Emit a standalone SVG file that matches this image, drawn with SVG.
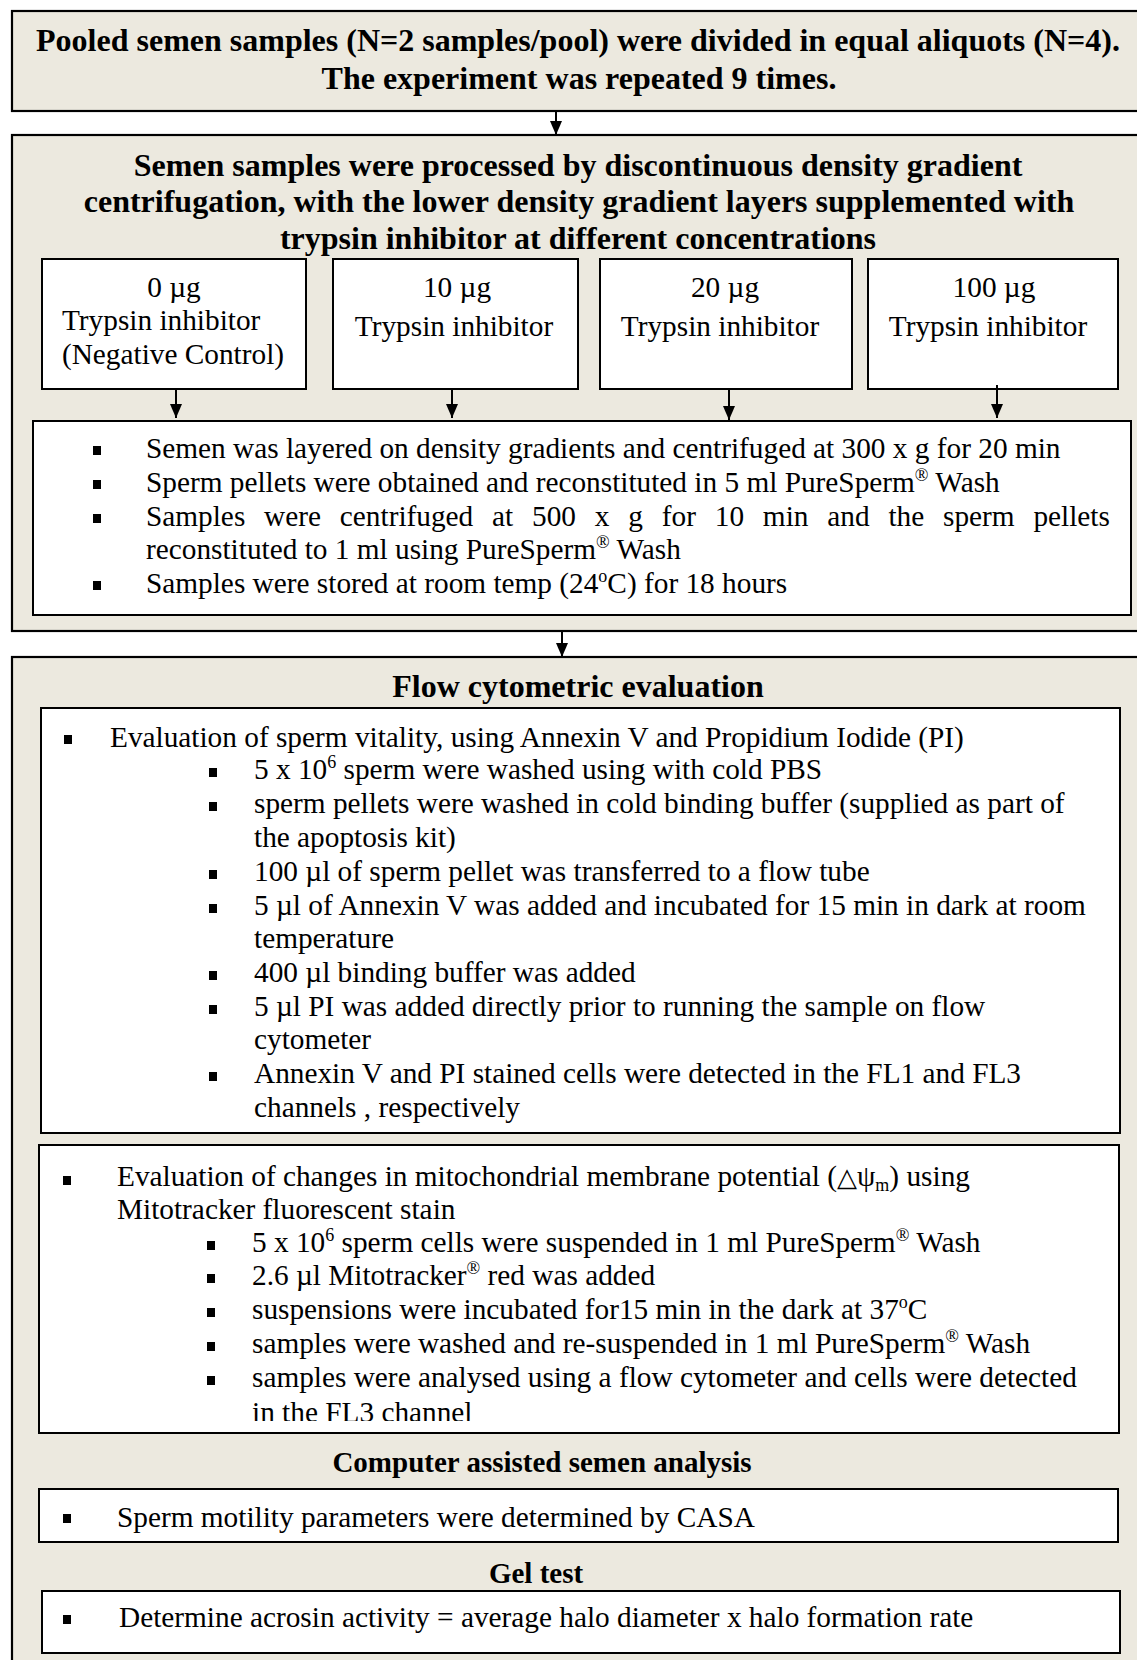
<svg xmlns="http://www.w3.org/2000/svg" width="1137" height="1660" viewBox="0 0 1137 1660">
<defs>
<style>
.outer{fill:#ECE9DF;stroke:#000;stroke-width:2.2}
.inner{fill:#fff;stroke:#000;stroke-width:2}
.hb{font-family:"Liberation Serif","Times New Roman",serif;font-weight:bold;font-size:32px;fill:#000}
.hs{font-family:"Liberation Serif","Times New Roman",serif;font-weight:bold;font-size:29px;fill:#000}
.t{font-family:"Liberation Serif","Times New Roman",serif;font-size:29.3px;fill:#000}
.c{text-anchor:middle}
.sup{font-size:18px}
.b{fill:#000}
.conn{stroke:#000;stroke-width:2;fill:none;marker-end:url(#ah)}
</style>
<marker id="ah" markerUnits="userSpaceOnUse" viewBox="0 0 14 12" markerWidth="14" markerHeight="12" refX="14" refY="6" orient="auto">
<path d="M0,0 L14,6 L0,12 z" fill="#000"/>
</marker>
<clipPath id="mitoClip"><rect x="39" y="1145" width="1080" height="276"/></clipPath>
</defs>

<g id="title">
<rect class="outer" x="12" y="11" width="1140" height="100"/>
<text class="hb c" x="578" y="51">Pooled semen samples (N=2 samples/pool) were divided in equal aliquots (N=4).</text>
<text class="hb c" x="579" y="89">The experiment was repeated 9 times.</text>
</g>

<g id="gradient">
<rect class="outer" x="12" y="135" width="1140" height="496"/>
<text class="hb c" x="578" y="176">Semen samples were processed by discontinuous density gradient</text>
<text class="hb c" x="579" y="212">centrifugation, with the lower density gradient layers supplemented with</text>
<text class="hb c" x="578" y="249">trypsin inhibitor at different concentrations</text>

<g id="conc0">
<rect class="inner" x="42" y="259" width="264" height="130"/>
<text class="t c" x="174" y="297">0 µg</text>
<text class="t" x="62" y="330">Trypsin inhibitor</text>
<text class="t c" x="173" y="364">(Negative Control)</text>
</g>
<g id="conc10">
<rect class="inner" x="333" y="259" width="245" height="130"/>
<text class="t c" x="457" y="297">10 µg</text>
<text class="t c" x="454" y="336">Trypsin inhibitor</text>
</g>
<g id="conc20">
<rect class="inner" x="600" y="259" width="252" height="130"/>
<text class="t c" x="725" y="297">20 µg</text>
<text class="t c" x="720" y="336">Trypsin inhibitor</text>
</g>
<g id="conc100">
<rect class="inner" x="868" y="259" width="250" height="130"/>
<text class="t c" x="994" y="297">100 µg</text>
<text class="t c" x="988" y="336">Trypsin inhibitor</text>
</g>

<g id="protocol">
<rect class="inner" x="33" y="421" width="1098" height="194"/>
<rect class="b" x="93" y="446" width="8" height="9"/>
<text class="t" x="146" y="458">Semen was layered on density gradients and centrifuged at 300 x g for 20 min</text>
<rect class="b" x="93" y="480" width="8" height="9"/>
<text class="t" x="146" y="492">Sperm pellets were obtained and reconstituted in 5 ml PureSperm<tspan class="sup" dy="-11">®</tspan><tspan dy="11"> Wash</tspan></text>
<rect class="b" x="93" y="514" width="8" height="9"/>
<text class="t" x="146" y="526" word-spacing="11.5">Samples were centrifuged at 500 x g for 10 min and the sperm pellets</text>
<text class="t" x="146" y="559">reconstituted to 1 ml using PureSperm<tspan class="sup" dy="-11">®</tspan><tspan dy="11"> Wash</tspan></text>
<rect class="b" x="93" y="581" width="8" height="9"/>
<text class="t" x="146" y="593">Samples were stored at room temp (24<tspan class="sup" dy="-11">o</tspan><tspan dy="11">C) for 18 hours</tspan></text>
</g>
</g>

<g id="flow">
<rect class="outer" x="12" y="657" width="1140" height="1020"/>
<text class="hb c" x="578" y="697">Flow cytometric evaluation</text>

<g id="vitality">
<rect class="inner" x="41" y="708" width="1079" height="425"/>
<rect class="b" x="64" y="735" width="8" height="9"/>
<text class="t" x="110" y="747">Evaluation of sperm vitality, using Annexin V and Propidium Iodide (PI)</text>
<rect class="b" x="209" y="768" width="8" height="9"/>
<text class="t" x="254" y="779">5 x 10<tspan class="sup" dy="-11">6</tspan><tspan dy="11"> sperm were washed using with cold PBS</tspan></text>
<rect class="b" x="209" y="802" width="8" height="9"/>
<text class="t" x="254" y="813">sperm pellets were washed in cold binding buffer (supplied as part of</text>
<text class="t" x="254" y="847">the apoptosis kit)</text>
<rect class="b" x="209" y="870" width="8" height="9"/>
<text class="t" x="254" y="881">100 µl of sperm pellet was transferred to a flow tube</text>
<rect class="b" x="209" y="904" width="8" height="9"/>
<text class="t" x="254" y="915">5 µl of Annexin V was added and incubated for 15 min in dark at room</text>
<text class="t" x="254" y="948">temperature</text>
<rect class="b" x="209" y="971" width="8" height="9"/>
<text class="t" x="254" y="982">400 µl binding buffer was added</text>
<rect class="b" x="209" y="1005" width="8" height="9"/>
<text class="t" x="254" y="1016">5 µl PI was added directly prior to running the sample on flow</text>
<text class="t" x="254" y="1049">cytometer</text>
<rect class="b" x="209" y="1072" width="8" height="9"/>
<text class="t" x="254" y="1083">Annexin V and PI stained cells were detected in the FL1 and FL3</text>
<text class="t" x="254" y="1117">channels , respectively</text>
</g>

<g id="mito">
<rect class="inner" x="39" y="1145" width="1080" height="288"/>
<rect class="b" x="63" y="1176" width="8" height="9"/>
<text class="t" x="117" y="1186">Evaluation of changes in mitochondrial membrane potential (<tspan font-family="DejaVu Sans, sans-serif" font-size="26">△</tspan>ψ<tspan class="sup" dy="5">m</tspan><tspan dy="-5">) using</tspan></text>
<text class="t" x="117" y="1219">Mitotracker fluorescent stain</text>
<rect class="b" x="207" y="1241" width="8" height="9"/>
<text class="t" x="252" y="1252">5 x 10<tspan class="sup" dy="-11">6</tspan><tspan dy="11"> sperm cells were suspended in 1 ml PureSperm</tspan><tspan class="sup" dy="-11">®</tspan><tspan dy="11"> Wash</tspan></text>
<rect class="b" x="207" y="1274" width="8" height="9"/>
<text class="t" x="252" y="1285">2.6 µl Mitotracker<tspan class="sup" dy="-11">®</tspan><tspan dy="11"> red was added</tspan></text>
<rect class="b" x="207" y="1308" width="8" height="9"/>
<text class="t" x="252" y="1319">suspensions were incubated for15 min in the dark at 37<tspan class="sup" dy="-11">o</tspan><tspan dy="11">C</tspan></text>
<rect class="b" x="207" y="1342" width="8" height="9"/>
<text class="t" x="252" y="1353">samples were washed and re-suspended in 1 ml PureSperm<tspan class="sup" dy="-11">®</tspan><tspan dy="11"> Wash</tspan></text>
<rect class="b" x="207" y="1376" width="8" height="9"/>
<text class="t" x="252" y="1387">samples were analysed using a flow cytometer and cells were detected</text>
<text class="t" x="252" y="1422" clip-path="url(#mitoClip)">in the FL3 channel</text>
</g>

<g id="casa-header">
<text class="hs c" x="542" y="1472">Computer assisted semen analysis</text>
</g>
<g id="casa">
<rect class="inner" x="39" y="1489" width="1079" height="53"/>
<rect class="b" x="63" y="1514" width="8" height="9"/>
<text class="t" x="117" y="1527">Sperm motility parameters were determined by CASA</text>
</g>
<g id="gel-header">
<text class="hs c" x="536" y="1583">Gel test</text>
</g>
<g id="gel">
<rect class="inner" x="42" y="1591" width="1078" height="62"/>
<rect class="b" x="63" y="1615" width="8" height="9"/>
<text class="t" x="119" y="1627">Determine acrosin activity = average halo diameter x halo formation rate</text>
</g>
</g>

<g id="connectors">
<line class="conn" x1="556" y1="111" x2="556" y2="135"/>
<line class="conn" x1="176" y1="389" x2="176" y2="418"/>
<line class="conn" x1="452" y1="389" x2="452" y2="418"/>
<line class="conn" x1="729" y1="389" x2="729" y2="420"/>
<line class="conn" x1="997" y1="385" x2="997" y2="418"/>
<line class="conn" x1="562" y1="631" x2="562" y2="657"/>
</g>
</svg>
